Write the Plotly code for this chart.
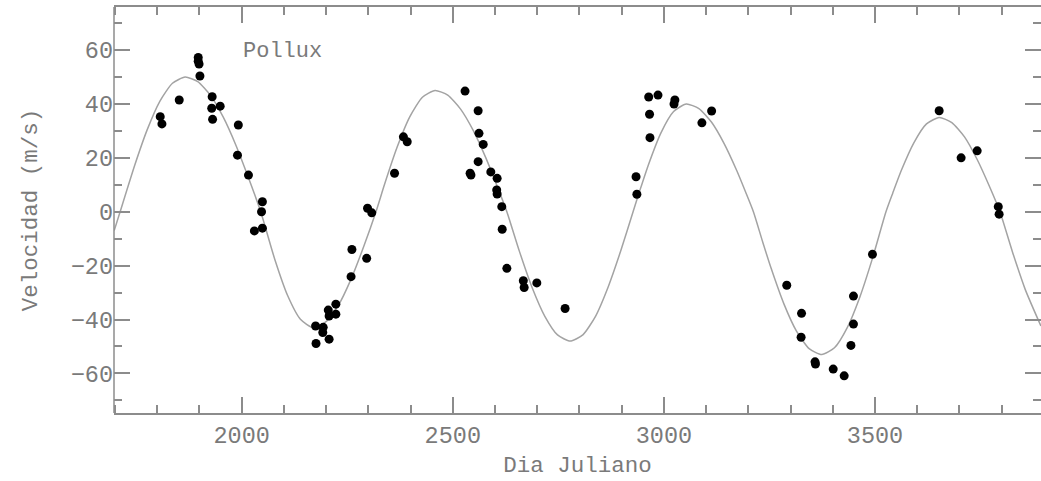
import plotly.graph_objects as go

obs_day = [1807, 1811, 1852, 1897, 1897, 1899, 1901, 1929, 1930, 1931, 1949, 1990, 1992,
           2016, 2030, 2047, 2049, 2049, 2175, 2176, 2192, 2193, 2205, 2207, 2207, 2223,
           2223, 2259, 2261, 2296, 2298, 2308, 2362, 2383, 2392, 2529, 2541, 2543, 2560,
           2562, 2560, 2572, 2590, 2605, 2604, 2605, 2616, 2617, 2628, 2667, 2669, 2699,
           2766, 2934, 2936, 2964, 2966, 2967, 2986, 3024, 3026, 3090, 3113, 3291, 3325,
           3326, 3358, 3359, 3401, 3427, 3443, 3449, 3449, 3494, 3652, 3704, 3742, 3792,
           3794]
obs_vel = [35.3, 32.6, 41.5, 57.3, 55.9, 54.8, 50.4, 38.4, 42.7, 34.3, 39.2, 21.0, 32.2,
           13.6, -7.1, 0.0, 3.7, -6.1, -42.4, -48.9, -44.8, -42.9, -36.5, -38.7, -47.3, -34.3,
           -38.0, -24.1, -14.0, -17.3, 1.3, -0.4, 14.3, 27.8, 26.0, 44.8, 14.3, 13.6, 37.5,
           29.1, 18.6, 25.0, 14.8, 12.4, 8.1, 6.6, 1.9, -6.5, -21.0, -25.6, -28.1, -26.4,
           -35.9, 13.0, 6.5, 42.6, 36.2, 27.5, 43.3, 40.0, 41.5, 33.0, 37.4, -27.3, -46.6,
           -37.7, -55.7, -56.5, -58.4, -60.9, -49.6, -31.3, -41.7, -15.8, 37.5, 20.0, 22.6, 1.9,
           -0.9]

# Orbital fit curve
fit_day = [1698, 1712, 1746, 1776, 1806, 1836, 1866, 1896, 1926, 1956, 1986, 2016, 2045,
           2079, 2109, 2139, 2169, 2199, 2229, 2259, 2289, 2318, 2338, 2368, 2398, 2428,
           2458, 2488, 2518, 2548, 2578, 2608, 2628, 2658, 2688, 2718, 2748, 2778, 2808,
           2838, 2868, 2898, 2927, 2943, 2963, 2993, 3023, 3053, 3083, 3113, 3143, 3173,
           3193, 3212, 3234, 3254, 3284, 3314, 3344, 3374, 3404, 3434, 3464, 3494, 3526,
           3542, 3562, 3592, 3622, 3652, 3682, 3712, 3742, 3772, 3796, 3826, 3856, 3893]
fit_vel = [-7, 0, 17, 30.4, 41, 47.7, 50, 48.3, 43.2, 35.2, 24.8, 12.6, 0,
           -18, -31.2, -39.9, -43, -40.9, -34.7, -25, -12.9, 0, 10, 23.9, 35.2, 42.5,
           45, 43.3, 38.2, 30.3, 20.1, 8.3, 0, -14.8, -28.2, -38.8, -45.7, -48, -45.7,
           -38.8, -27.9, -14.4, 0, 7.9, 17.3, 29.3, 37.2, 40, 38.3, 33.2, 25.2, 15.1,
           7.5, 0, -11.2, -21, -34.1, -44.3, -50.8, -53, -50.5, -43.1, -31.7, -17.3, 0,
           6.9, 15.2, 25.6, 32.6, 35, 33.1, 27.8, 19.4, 9.1, 0, -15.1, -28.9, -42.4]

x_tick_vals = [2000, 2500, 3000, 3500]
y_tick_vals = [-60, -40, -20, 0, 20, 40, 60]
star_name = "Pollux"
x_title = "Dia Juliano"
y_title = "Velocidad (m/s)"

GRAY = "#8c8c8c"
TXT = "#7a7a7a"
FONT = "Liberation Mono"

fig = go.Figure()
fig.add_trace(go.Scatter(
    x=fit_day, y=fit_vel, mode="lines",
    line=dict(color="#a3a3a3", width=1.5, shape="spline", smoothing=0.6),
    hoverinfo="skip", showlegend=False))
fig.add_trace(go.Scatter(
    x=obs_day, y=obs_vel, mode="markers",
    marker=dict(color="black", size=9, line=dict(width=0)),
    showlegend=False))

tick_common = dict(
    ticks="inside", tickcolor=GRAY, tickwidth=1.5, ticklen=16,
    mirror="allticks", showgrid=False, zeroline=False,
    tickfont=dict(family=FONT, size=23.5, color=TXT),
)

fig.update_xaxes(
    range=[1697.5, 3893.2], tickmode="array", tickvals=x_tick_vals,
    showline=True, linecolor=GRAY, linewidth=1.5,
    minor=dict(dtick=100, tick0=0, ticks="inside", ticklen=8, tickcolor=GRAY,
               tickwidth=1.5, showgrid=False),
    title=dict(text=x_title, font=dict(family=FONT, size=22.5, color=TXT), standoff=7),
    **tick_common)
fig.update_yaxes(
    range=[-74.7, 76.0], tickmode="array", tickvals=y_tick_vals,
    showline=False,
    minor=dict(dtick=10, tick0=0, ticks="inside", ticklen=8, tickcolor=GRAY,
               tickwidth=1.5, showgrid=False),
    title=dict(text=y_title, font=dict(family=FONT, size=22.5, color=TXT), standoff=26),
    **tick_common)

# left frame edge (right edge lies just outside the picture in the reference)
fig.add_shape(type="line", xref="paper", yref="paper", x0=0, x1=0, y0=0, y1=1,
              line=dict(color=GRAY, width=1.5))

fig.add_annotation(
    x=2000, y=59.4, xref="x", yref="y", text=star_name, showarrow=False,
    xanchor="left", yanchor="middle", borderpad=0,
    font=dict(family=FONT, size=22, color=TXT))

fig.update_layout(
    width=1041, height=481,
    margin=dict(l=114, r=0, t=7, b=68, autoexpand=False),
    plot_bgcolor="white", paper_bgcolor="white",
    showlegend=False,
)

fig.write_html("out.html")
